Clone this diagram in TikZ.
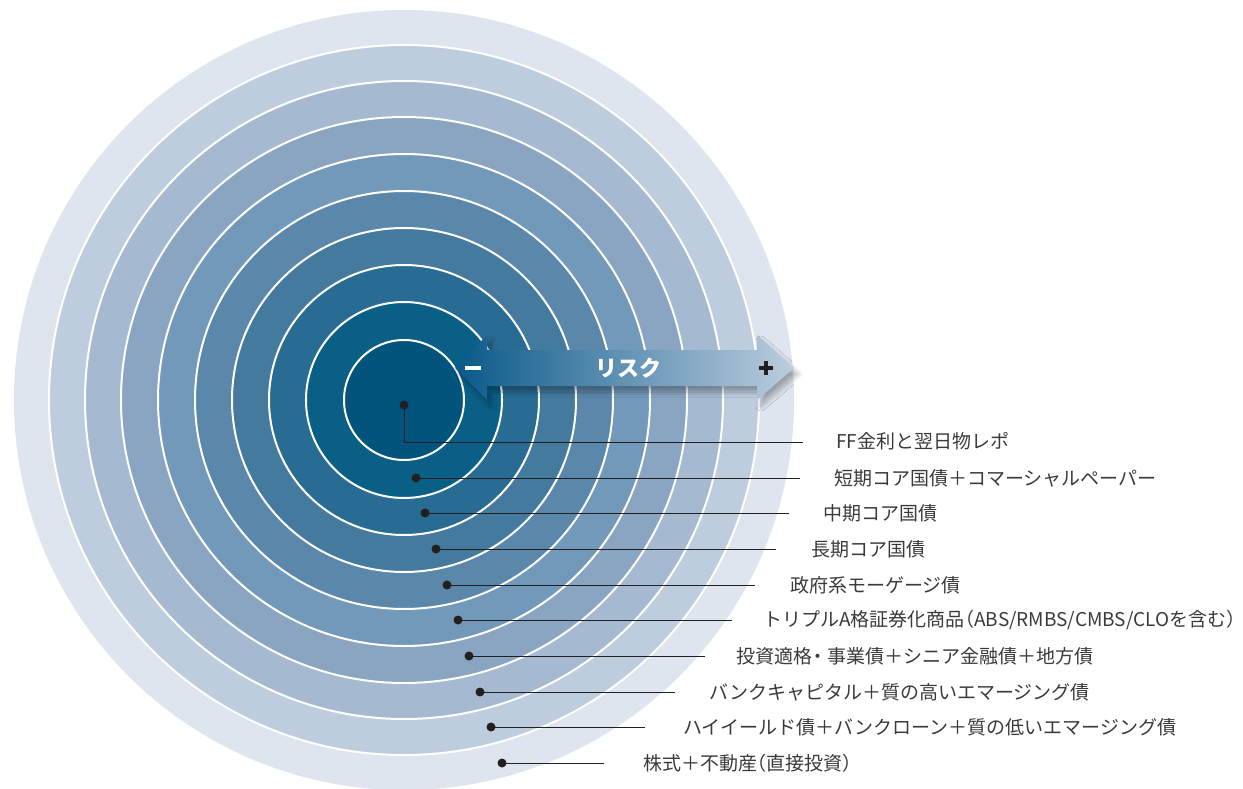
\documentclass[tikz,border=0pt]{standalone}
\usepackage{fontspec}
\setmainfont{Noto Sans CJK JP}
\usetikzlibrary{shadows.blur}
\definecolor{r1}{HTML}{02547D}
\definecolor{r2}{HTML}{0A5F87}
\definecolor{r3}{HTML}{286B93}
\definecolor{r4}{HTML}{437A9E}
\definecolor{r5}{HTML}{5B88AA}
\definecolor{r6}{HTML}{7299B9}
\definecolor{r7}{HTML}{89A5C2}
\definecolor{r8}{HTML}{A5B9D0}
\definecolor{r9}{HTML}{BDCDDD}
\definecolor{r10}{HTML}{DEE5EE}
\definecolor{lineclr}{HTML}{231F20}
\definecolor{txtclr}{HTML}{3A3A3A}
\definecolor{arrL}{HTML}{09598A}
\definecolor{arrR}{HTML}{BCCDDE}
\newcommand{\lpar}{\kern-.5em（}
\newcommand{\rpar}{）}
\newcommand{\nakaguro}{\kern-.2em・}
\begin{document}
\begin{tikzpicture}[x=1pt,y=-1pt,
  ring/.style={draw=white,line width=2pt},
  dotm/.style={circle,fill=lineclr,inner sep=0pt,minimum size=9pt},
  lead/.style={draw=lineclr,line width=1pt},
  lbl/.style={anchor=west,inner sep=0pt,text=txtclr,font=\fontsize{19}{21}\selectfont},
  riskarrow/.style={left color=arrL,right color=arrR,
    blur shadow={shadow xshift=4pt,shadow yshift=-6pt,shadow blur steps=10,shadow blur radius=5pt,shadow opacity=30}}]
\useasboundingbox (0,0) rectangle (1243,789);
% concentric rings
\fill[r10] (404,400) circle (390pt);
\foreach \r/\c in {355/r9,319/r8,283/r7,246/r6,209/r5,172/r4,135/r3,98/r2,60/r1}
  \filldraw[fill=\c,ring] (404,400) circle (\r pt);
% risk arrow
\path[riskarrow] (455,368) -- (487,335) -- (487,350) -- (757,350) -- (757,335)
  -- (794,368) -- (757,400) -- (757,386) -- (487,386) -- (487,400) -- cycle;
\node[text=white,font=\fontsize{22}{23}\selectfont\bfseries] (risk) at (628,368) {リスク};
\fill[white] (465,366) rectangle (481,370);
\fill[lineclr] (759,366) rectangle (773,370);
\fill[lineclr] (764,361) rectangle (768,375);
% dots
\node[dotm] (d1) at (404,405) {};
\node[dotm] (d2) at (416,478) {};
\node[dotm] (d3) at (425,513) {};
\node[dotm] (d4) at (436,549) {};
\node[dotm] (d5) at (447,585) {};
\node[dotm] (d6) at (458,620) {};
\node[dotm] (d7) at (469,656) {};
\node[dotm] (d8) at (480,692) {};
\node[dotm] (d9) at (491,727) {};
\node[dotm] (d10) at (502,763) {};
% line ends
\coordinate (e1) at (803,442);
\coordinate (e2) at (800,478);
\coordinate (e3) at (789,513);
\coordinate (e4) at (776,549);
\coordinate (e5) at (755,585);
\coordinate (e6) at (732,620);
\coordinate (e7) at (705,656);
\coordinate (e8) at (675,692);
\coordinate (e9) at (645,727);
\coordinate (e10) at (604,763);
\draw[lead] (d1.center) |- (e1);
\foreach \i in {2,...,10} \draw[lead] (d\i.center) -- (e\i);
% labels
\node[lbl] (l1) at (836,441) {FF金利と翌日物レポ};
\node[lbl] (l2) at (834,478) {短期コア国債＋コマーシャルペーパー};
\node[lbl] (l3) at (823,513) {中期コア国債};
\node[lbl] (l4) at (811,549) {長期コア国債};
\node[lbl] (l5) at (790,585) {政府系モーゲージ債};
\node[lbl] (l6) at (763,620) {トリプルA格証券化商品\lpar ABS/RMBS/CMBS/CLOを含む\rpar};
\node[lbl] (l7) at (736,656) {投資適格\nakaguro 事業債＋シニア金融債＋地方債};
\node[lbl] (l8) at (709,692) {バンクキャピタル＋質の高いエマージング債};
\node[lbl] (l9) at (683,727) {ハイイールド債＋バンクローン＋質の低いエマージング債};
\node[lbl] (l10) at (643,763) {株式＋不動産\lpar 直接投資\rpar};
\end{tikzpicture}
\end{document}
